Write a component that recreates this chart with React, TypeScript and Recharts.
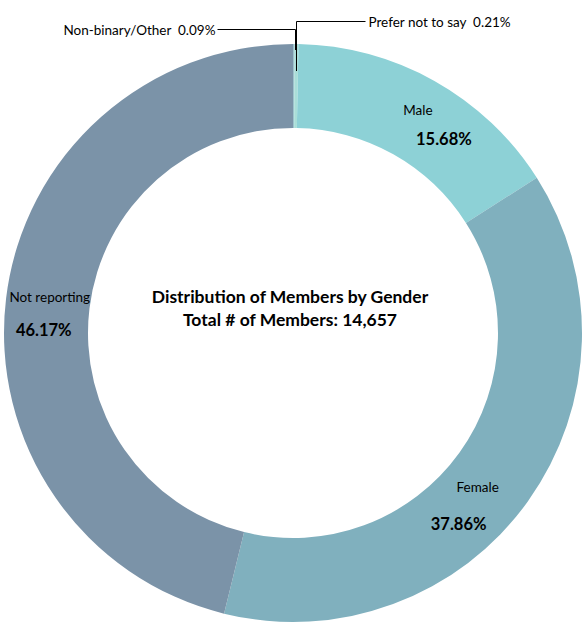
import { PieChart, Pie, Cell } from "recharts";

const categories = [
  "Non-binary/Other",
  "Prefer not to say",
  "Male",
  "Female",
  "Not reporting",
];
const shares = [0.09, 0.21, 15.68, 37.86, 46.17];
const totalMembers = "14,657";

const COLORS = [
  "#9cc3cc", // non-binary
  "#a9ded8", // prefer not to say
  "#8dd1d6", // male
  "#80b0be", // female
  "#7b93a8", // not reporting
];

const data = categories.map((name, i) => ({ name, value: shares[i] }));

const RADIAN = Math.PI / 180;
const FONT = "Lato, 'Open Sans', sans-serif";

// offsets of name / percent line from the ring mid point
const INSIDE_OFFSETS: Record<string, [number, number, number, number]> = {
  Male: [4, -8, 30, 21],
  Female: [-16, 10, -35, 47],
  "Not reporting": [2, -6, -4, 27],
};

function renderLabel(props: any) {
  const { cx, cy, midAngle, innerRadius, outerRadius, name, value } = props;
  const pct = `${Number(value).toFixed(2)}%`;
  const cos = Math.cos(-midAngle * RADIAN);
  const sin = Math.sin(-midAngle * RADIAN);

  if (INSIDE_OFFSETS[name]) {
    const r = (innerRadius + outerRadius) / 2;
    const x = cx + r * cos;
    const y = cy + r * sin;
    const [nx, ny, px, py] = INSIDE_OFFSETS[name];
    return (
      <g>
        <text
          x={x + nx}
          y={y + ny}
          textAnchor="middle"
          dominantBaseline="central"
          fontFamily={FONT}
          fontSize={13.5}
          fill="#000"
        >
          {name}
        </text>
        <text
          x={x + px}
          y={y + py}
          textAnchor="middle"
          dominantBaseline="central"
          fontFamily={FONT}
          fontSize={16.5}
          fontWeight="bold"
          fill="#000"
        >
          {pct}
        </text>
      </g>
    );
  }

  // tiny slices: leader line up and out
  const left = name === "Non-binary/Other";
  const r0 = left ? outerRadius - 6 : outerRadius - 27;
  const sx = Math.round(cx + r0 * cos + (left ? 1 : 0)) + 0.5;
  const sy = cy + r0 * sin;
  const topY = cy - outerRadius - (left ? 15 : 23) + 0.5;
  const ex = left ? sx - 78 : sx + 69;
  return (
    <g>
      <polyline
        points={`${sx},${sy} ${sx},${topY} ${ex},${topY}`}
        fill="none"
        stroke="#000"
        strokeWidth={1}
      />
      <text
        x={left ? ex - 2 : ex + 3}
        y={topY}
        textAnchor={left ? "end" : "start"}
        dominantBaseline="central"
        fontFamily={FONT}
        fontSize={13.5}
        fill="#000"
        xmlSpace="preserve"
      >
        {`${name}  ${pct}`}
      </text>
    </g>
  );
}

export default function App() {
  return (
    <div
      style={{
        position: "absolute",
        left: 0,
        top: 0,
        width: 587,
        height: 637,
        background: "#fff",
      }}
    >
      <PieChart
        width={587}
        height={637}
        margin={{ top: 0, right: 0, bottom: 0, left: 0 }}
      >
        <Pie
          data={data}
          dataKey="value"
          nameKey="name"
          cx={293}
          cy={333}
          innerRadius={205}
          outerRadius={289}
          startAngle={90}
          endAngle={-270}
          stroke="none"
          label={renderLabel}
          labelLine={false}
          isAnimationActive={false}
        >
          {data.map((_, i) => (
            <Cell key={`cell-${i}`} fill={COLORS[i % COLORS.length]} />
          ))}
        </Pie>
      </PieChart>
      <div
        style={{
          position: "absolute",
          left: 0,
          width: 580,
          top: 285,
          textAlign: "center",
          fontFamily: FONT,
          fontWeight: "bold",
          fontSize: 17.5,
          lineHeight: "23px",
          color: "#000",
        }}
      >
        <div>Distribution of Members by Gender</div>
        <div>Total # of Members: {totalMembers}</div>
      </div>
    </div>
  );
}
